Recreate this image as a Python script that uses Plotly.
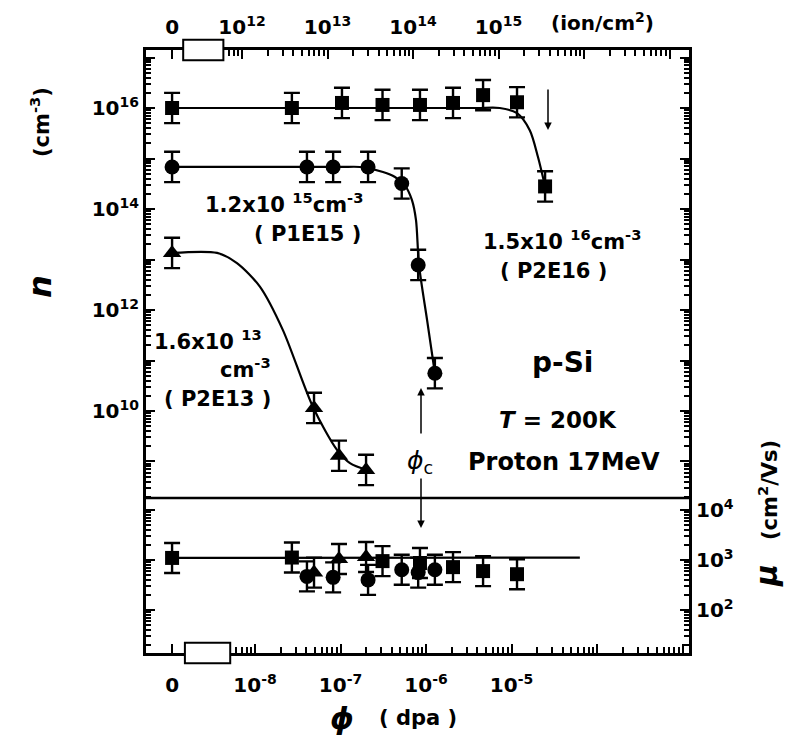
import math
import plotly.graph_objects as go

# ---------------- data (phi in dpa, 0 = unirradiated) ----------------
# carrier concentration n (cm^-3)
sq_phi = [0, 2.7e-8, 1.04e-7, 3.1e-7, 8.5e-7, 2.07e-6, 4.65e-6, 1.16e-5, 2.47e-5]
sq_n = [1.0e16, 1.0e16, 1.26e16, 1.15e16, 1.15e16, 1.26e16, 1.8e16, 1.3e16, 2.8e14]
sq_err = [0.3, 0.3, 0.3, 0.3, 0.3, 0.3, 0.3, 0.3, 0.3]

ci_phi = [0, 4.05e-8, 8.2e-8, 2.1e-7, 5.2e-7, 8.1e-7, 1.27e-6]
ci_n = [6.8e14, 6.8e14, 6.8e14, 6.8e14, 3.2e14, 7.8e12, 5.6e10]
ci_err = [0.3, 0.3, 0.3, 0.3, 0.3, 0.3, 0.3]

tr_phi = [0, 4.9e-8, 9.6e-8, 1.99e-7]
tr_n = [1.35e13, 1.15e10, 1.3e9, 6.8e8]
tr_err = [0.3, 0.3, 0.3, 0.3]

# fitted curves
sq_fit_phi = [0, 1.0e-6, 4.0e-6, 7.3e-6, 1.16e-5, 1.64e-5, 2.04e-5, 2.47e-5]
sq_fit_n = [1.0e16, 1.0e16, 1.0e16, 1.0e16, 7.9e15, 3.6e15, 1.07e15, 2.8e14]

ci_fit_phi = [0, 1.0e-7, 1.69e-7, 3.14e-7, 4.34e-7, 5.68e-7, 6.85e-7, 7.64e-7, 8.28e-7, 1.03e-6, 1.27e-6]
ci_fit_n = [6.8e14, 6.8e14, 6.8e14, 5.4e14, 4.3e14, 2.9e14, 1.5e14, 6.0e13, 7.8e12, 6.3e11, 5.6e10]

tr_fit_phi = [0, 3.6e-9, 6.15e-9, 1.14e-8, 2.12e-8, 4.76e-8, 9.1e-8, 1.29e-7, 2.04e-7]
tr_fit_n = [1.35e13, 1.35e13, 8.5e12, 2.9e12, 4.0e11, 1.2e10, 1.7e9, 9.3e8, 6.8e8]

# mobility mu (cm^2/Vs)
mu_sq_phi = [0, 2.7e-8, 3.1e-7, 8.5e-7, 2.07e-6, 4.65e-6, 1.16e-5]
mu_sq = [1100, 1120, 950, 870, 720, 600, 520]
mu_ci_phi = [4.05e-8, 8.2e-8, 2.1e-7, 5.2e-7, 8.1e-7, 1.27e-6]
mu_ci = [470, 450, 400, 640, 560, 640]
mu_tr_phi = [4.9e-8, 9.6e-8, 1.99e-7]
mu_tr = [560, 1050, 1150]
mu_err = 0.3
mu_fit_phi = [0, 6.3e-5]
mu_fit = [1100, 1120]

# tick labels
bottom_exps = [-8, -7, -6, -5]
top_exps = [12, 13, 14, 15]
n_label_exps = [10, 12, 14, 16]
mu_label_exps = [2, 3, 4]

# ---------------- layout constants ----------------
W, H = 786, 741
ML, MR, MT, MB = 146, 97, 50, 88
PW, PH = W - ML - MR, H - MT - MB
DIV = (653 - 498) / PH
ZERO_POS = -8.97          # axis position of the "0" dose
ION_OFFSET = -20.152      # log10(dpa) position of 10^k ions = k + offset
XR = [-9.275, -2.924]
FONT = "DejaVu Sans"


def xpos(vals):
    return [math.log10(v) if v > 0 else ZERO_POS for v in vals]


def errs(vals, dec):
    if not isinstance(dec, list):
        dec = [dec] * len(vals)
    plus = [v * (10 ** d - 1) for v, d in zip(vals, dec)]
    minus = [v * (1 - 10 ** -d) for v, d in zip(vals, dec)]
    return dict(type="data", symmetric=False, array=plus, arrayminus=minus,
                color="black", thickness=2.4, width=8)


def px(x):
    return (x - ML) / PW


def py(y):
    return (MT + PH - y) / PH


fig = go.Figure()

# fits
for fx, fy in [(sq_fit_phi, sq_fit_n), (ci_fit_phi, ci_fit_n), (tr_fit_phi, tr_fit_n)]:
    fig.add_trace(go.Scatter(x=xpos(fx), y=fy, mode="lines",
                             line=dict(color="black", width=2.2, shape="spline", smoothing=0.8),
                             xaxis="x", yaxis="y", hoverinfo="skip"))
fig.add_trace(go.Scatter(x=xpos(mu_fit_phi), y=mu_fit, mode="lines", line=dict(color="black", width=2.2),
                         xaxis="x", yaxis="y2"))

SQ = dict(symbol="square", size=14, color="black")
CI = dict(symbol="circle", size=15, color="black")
TR = dict(symbol="triangle-up", size=16, color="black")
# upper points
fig.add_trace(go.Scatter(x=xpos(sq_phi), y=sq_n, mode="markers", marker=SQ,
                         error_y=errs(sq_n, sq_err), xaxis="x", yaxis="y"))
fig.add_trace(go.Scatter(x=xpos(ci_phi), y=ci_n, mode="markers", marker=CI,
                         error_y=errs(ci_n, ci_err), xaxis="x", yaxis="y"))
fig.add_trace(go.Scatter(x=xpos(tr_phi), y=tr_n, mode="markers", marker=TR,
                         error_y=errs(tr_n, tr_err), xaxis="x", yaxis="y"))
# lower points
fig.add_trace(go.Scatter(x=xpos(mu_sq_phi), y=mu_sq, mode="markers", marker=SQ,
                         error_y=errs(mu_sq, mu_err), xaxis="x", yaxis="y2"))
fig.add_trace(go.Scatter(x=xpos(mu_ci_phi), y=mu_ci, mode="markers", marker=CI,
                         error_y=errs(mu_ci, mu_err), xaxis="x", yaxis="y2"))
fig.add_trace(go.Scatter(x=xpos(mu_tr_phi), y=mu_tr, mode="markers", marker=TR,
                         error_y=errs(mu_tr, mu_err), xaxis="x", yaxis="y2"))
# dummy for top axis
fig.add_trace(go.Scatter(x=[ZERO_POS], y=[1e16], mode="markers", marker=dict(opacity=0), xaxis="x2", yaxis="y",
                         hoverinfo="skip"))

tickfont = dict(family=FONT, size=20, color="black", weight="bold")

# bottom axis ticks
b_vals = [ZERO_POS] + bottom_exps + [-4, -3]
b_text = ["0"] + ["10<sup>%d</sup>" % e for e in bottom_exps] + ["", ""]
b_minor = []
for d in range(-9, -2):
    for m in range(2, 10):
        v = d + math.log10(m)
        if -8.29 < v < XR[1]:
            b_minor.append(v)
# top axis ticks
t_vals = [ZERO_POS] + [e + ION_OFFSET for e in top_exps] + [16 + ION_OFFSET, 17 + ION_OFFSET]
t_text = ["0"] + ["10<sup>%d</sup>" % e for e in top_exps] + ["", ""]
t_minor = []
for d in range(11, 18):
    for m in range(2, 10):
        v = d + math.log10(m) + ION_OFFSET
        if -8.37 < v < XR[1]:
            t_minor.append(v)

n_vals = [10.0 ** k for k in range(9, 18)]
n_text = ["10<sup>%d</sup>" % k if k in n_label_exps else "" for k in range(9, 18)]
n_minor = [m * 10.0 ** k for k in range(8, 18) for m in range(2, 10)]
mu_vals = [10.0 ** k for k in range(1, 5)]
mu_text = ["10<sup>%d</sup>" % k if k in mu_label_exps else "" for k in range(1, 5)]
mu_minor = [m * 10.0 ** k for k in range(1, 5) for m in range(2, 10)]

axcommon = dict(showline=True, linewidth=3, linecolor="black", ticks="inside", ticklen=9, tickwidth=2,
                tickcolor="black", showgrid=False, zeroline=False, tickfont=tickfont)
minor_x = dict(ticks="inside", ticklen=6, tickwidth=1.8, tickcolor="black")
minor_y = dict(ticks="inside", ticklen=5, tickwidth=1.6, tickcolor="black")

fig.update_layout(
    width=W, height=H, margin=dict(l=ML, r=MR, t=MT, b=MB),
    paper_bgcolor="white", plot_bgcolor="white", showlegend=False,
    font=dict(family=FONT, color="black"),
    xaxis=dict(domain=[0, 1], range=XR, anchor="y2", tickmode="array", tickvals=b_vals, ticktext=b_text,
               minor=dict(tickvals=b_minor, **minor_x), ticklabelstandoff=12, **axcommon),
    xaxis2=dict(domain=[0, 1], range=XR, overlaying="x", side="top", anchor="y", tickmode="array",
                tickvals=t_vals, ticktext=t_text, minor=dict(tickvals=t_minor, **minor_x),
                ticklabelstandoff=5, **axcommon),
    yaxis=dict(domain=[DIV, 1], type="log", range=[8.277, 17.149], anchor="x", mirror="ticks",
               tickmode="array", tickvals=n_vals, ticktext=n_text,
               minor=dict(tickvals=n_minor, **minor_y), **axcommon),
    yaxis2=dict(domain=[0, DIV], type="log", range=[1.14, 4.24], anchor="x", side="right", mirror="ticks",
                tickmode="array", tickvals=mu_vals, ticktext=mu_text,
                minor=dict(tickvals=mu_minor, **minor_y), **axcommon),
)

# divider line and axis-break boxes
fig.add_shape(type="line", xref="paper", yref="paper", x0=0, x1=1, y0=DIV, y1=DIV,
              line=dict(color="black", width=2.5), layer="above")
fig.add_shape(type="rect", xref="x", yref="paper", x0=-8.82, x1=-8.29, y0=-0.017, y1=0.017,
              fillcolor="white", line=dict(color="black", width=2), layer="above")
fig.add_shape(type="rect", xref="x", yref="paper", x0=-8.84, x1=-8.37, y0=0.983, y1=1.017,
              fillcolor="white", line=dict(color="black", width=2), layer="above")


def txt(x, y, s, size=19, bold=False, angle=0):
    fig.add_annotation(x=px(x), y=py(y), xref="paper", yref="paper", text=s, showarrow=False,
                       textangle=angle, xanchor="center", yanchor="middle",
                       font=dict(family=FONT, size=size, color="black", weight="bold" if bold else "normal"))


txt(284, 203, "1.2x10 <sup>15</sup>cm<sup>-3</sup>", size=21, bold=True)
txt(307, 234, "( P1E15 )", size=21, bold=True)
txt(562, 240, "1.5x10 <sup>16</sup>cm<sup>-3</sup>", size=21, bold=True)
txt(553, 271, "( P2E16 )", size=21, bold=True)
txt(208, 340, "1.6x10 <sup>13</sup>", size=21, bold=True)
txt(245, 368, "cm<sup>-3</sup>", size=21, bold=True)
txt(217, 399, "( P2E13 )", size=21, bold=True)
txt(562, 362, "p-Si", size=28, bold=True)
txt(558, 420, "<i>T</i> = 200K", size=23, bold=True)
txt(564, 462, "Proton 17MeV", size=24, bold=True)
txt(420, 462, "<i>ϕ</i><sub>c</sub>", size=25)
txt(602, 22, "(ion/cm<sup>2</sup>)", size=20, bold=True)
txt(40, 287, "<i>n</i>", size=32, bold=True, angle=-90)
txt(40, 122, "(cm<sup>-3</sup>)", size=21, bold=True, angle=-90)
txt(766, 576, "<i>μ</i>", size=30, bold=True, angle=-90)
txt(768, 490, "(cm<sup>2</sup>/Vs)", size=21, bold=True, angle=-90)
txt(342, 718, "<i>ϕ</i>", size=30, bold=True)
txt(418, 718, "( dpa )", size=21, bold=True)


def arrow(x, yhead, ytail):
    fig.add_annotation(x=px(x), y=py(yhead), xref="paper", yref="paper", text="", showarrow=True,
                       ax=0, ay=ytail - yhead, arrowhead=2, arrowsize=1, arrowwidth=1.5, arrowcolor="black")


arrow(548, 130, 88)
arrow(421, 388, 435)
arrow(421, 528, 477)

fig.write_html("out.html")
